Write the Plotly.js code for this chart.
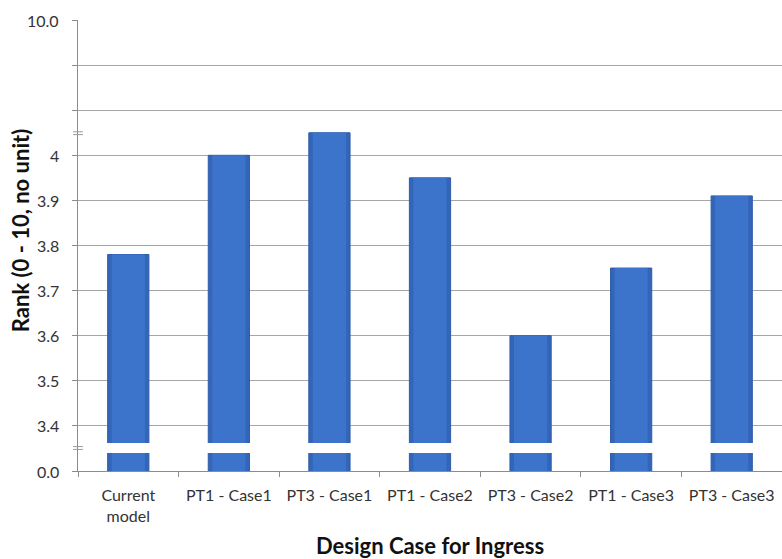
<!DOCTYPE html>
<html><head><meta charset="utf-8">
<script src="https://cdn.plot.ly/plotly-3.0.1.min.js"></script>
<style>html,body{margin:0;padding:0;background:#fff}</style>
</head><body>
<div id="chart" style="width:782px;height:559px"></div>
<script>
const categories = ["Current<br>model","PT1 - Case1","PT3 - Case1","PT1 - Case2","PT3 - Case2","PT1 - Case3","PT3 - Case3"];
const rankValues = [3.78, 4.00, 4.05, 3.95, 3.60, 3.75, 3.91];
const yTickVals = [3.3, 3.4, 3.5, 3.6, 3.7, 3.8, 3.9, 4.0, 4.1, 4.2, 4.3];
const yTickText = ["0.0", "3.4", "3.5", "3.6", "3.7", "3.8", "3.9", "4", "", "", "10.0"];
const breakLow = [3.340, 3.362];
const breakMarks = [3.351, 4.049];

const font = "Lato, 'Open Sans', sans-serif";
const shapes = [{
  type: "rect", xref: "paper", yref: "y", x0: 0.001, x1: 1, y0: breakLow[0], y1: breakLow[1],
  fillcolor: "#ffffff", line: {width: 0}, layer: "above"
}];
breakMarks.forEach(v => {
  [-0.0035, 0.0035].forEach(d => {
    shapes.push({type: "line", xref: "paper", yref: "y", x0: -0.007, x1: 0.007,
      y0: v + d * 0.9, y1: v + d * 0.9, line: {color: "#9a9a9a", width: 1}, layer: "above"});
  });
});

const annotations = [{
  text: "Rank (0 - 10, no unit)", xref: "paper", yref: "paper",
  x: -0.0824, y: 0.534, textangle: -90, showarrow: false,
  xanchor: "center", yanchor: "middle",
  font: {family: font, size: 22, color: "#111", weight: "bold"}
}];
yTickVals.forEach((v, i) => {
  if (!yTickText[i]) return;
  annotations.push({
    text: yTickText[i], xref: "paper", yref: "y", x: 0, y: v,
    xanchor: "right", yanchor: "middle", xshift: -17, showarrow: false,
    font: {family: font, size: 16, color: "#333"}
  });
});

const data = [{
  type: "bar", x: categories, y: rankValues, width: 0.41,
  marker: {color: "#3365b8", line: {color: "#2f5ca8", width: 1}},
  hoverinfo: "x+y"
}, {
  type: "bar", x: categories, y: rankValues, width: 0.33,
  marker: {color: "#3c73cb", line: {width: 0}},
  hoverinfo: "skip"
}];

const layout = {
  width: 782, height: 559,
  margin: {l: 78, r: 0, t: 20, b: 88},
  paper_bgcolor: "#fff", plot_bgcolor: "#fff",
  showlegend: false,
  barmode: "overlay",
  font: {family: font, size: 15, color: "#333"},
  xaxis: {
    tickson: "boundaries", ticks: "outside", ticklen: 5, tickcolor: "#8c8c8c",
    showline: true, linecolor: "#8c8c8c", linewidth: 1, showgrid: false,
    tickfont: {family: font, size: 16, color: "#333"},
    ticklabelstandoff: 10,
    title: {text: "Design Case for Ingress", font: {family: font, size: 22, color: "#111", weight: "bold"}, standoff: 16},
    automargin: false
  },
  yaxis: {
    range: [3.3, 4.3], tickvals: yTickVals, showticklabels: false,
    ticks: "outside", ticklen: 5, tickcolor: "#8c8c8c",
    showgrid: true, gridcolor: "#a6a6a6", gridwidth: 1,
    showline: true, linecolor: "#8c8c8c", linewidth: 1, zeroline: false,
    automargin: false
  },
  annotations: annotations,
  shapes: shapes
};
Plotly.newPlot("chart", data, layout, {displayModeBar: false, staticPlot: true});
</script>
</body></html>
